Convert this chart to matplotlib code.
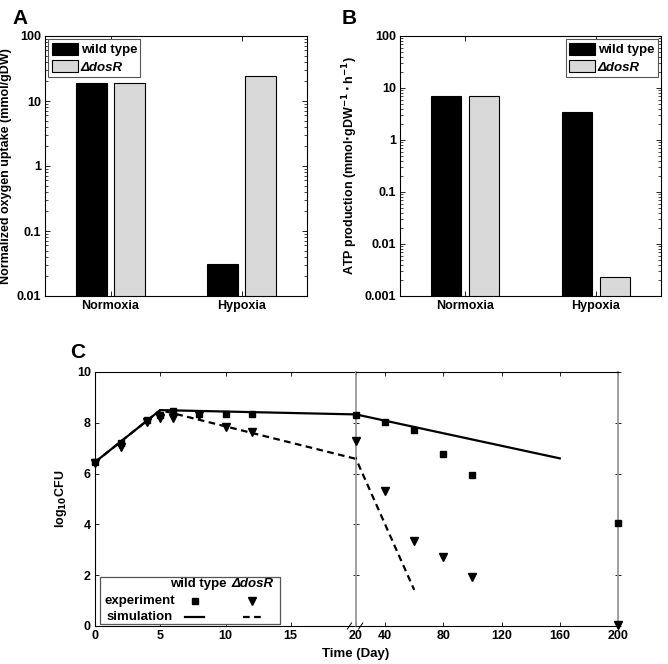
import numpy as np
import matplotlib.pyplot as plt
from matplotlib.patches import Rectangle
from matplotlib.lines import Line2D

plt.rcParams['font.family'] = ['Liberation Sans', 'DejaVu Sans']
plt.rcParams['font.weight'] = 'bold'
plt.rcParams['font.size'] = 9
plt.rcParams['axes.labelweight'] = 'bold'

conditions = ['Normoxia', 'Hypoxia']
o2_wt = [18.9, 0.031]
o2_dos = [18.9, 24.0]
atp_wt = [7.0, 3.5]
atp_dos = [7.0, 0.0023]

# panel C data
days_sim_wt = [0, 5, 20, 160]
sim_wt = [6.45, 8.5, 8.33, 6.6]
days_sim_dos = [0, 5, 20, 60]
sim_dos = [6.45, 8.5, 6.58, 1.42]
days_exp = [0, 2, 4, 5, 6, 8, 10, 12, 20, 40, 60, 80, 100, 200]
exp_wt = [6.45, 7.2, 8.1, 8.3, 8.45, 8.35, 8.35, 8.35, 8.32, 8.05, 7.7, 6.77, 5.96, 4.07]
exp_dos = [6.4, 7.05, 8.05, 8.2, 8.2, 8.3, 7.85, 7.63, 7.3, 5.3, 3.33, 2.72, 1.94, 0.05]

GRAY = '#d9d9d9'
LINE_GRAY = '#999999'


def fpos(l, t, r, b):
    return [l / 668, 1 - b / 664, (r - l) / 668, (b - t) / 664]


fig = plt.figure(figsize=(6.68, 6.64), dpi=100)


def bar_panel(ax, wt, dos, ylim, ylabel, legloc):
    x = np.arange(1, len(conditions) + 1)
    ax.bar(x - 0.145, wt, 0.23, color='black', edgecolor='black', linewidth=0.8, label='wild type')
    ax.bar(x + 0.145, dos, 0.23, color=GRAY, edgecolor='black', linewidth=0.8, label='ΔdosR')
    ax.set_yscale('log')
    ax.set_ylim(*ylim)
    ax.set_xlim(0.5, 2.5)
    ax.set_xticks(x)
    ax.set_xticklabels(conditions)
    ax.set_ylabel(ylabel, labelpad=3)
    ax.tick_params(which='both', direction='in', top=True, right=True)
    ax.tick_params(which='major', length=3.5, width=0.6, pad=3)
    ax.tick_params(which='minor', length=2, width=0.5)
    ax.yaxis.set_minor_formatter(plt.NullFormatter())
    ax.tick_params(axis='x', which='minor', bottom=False, top=False)
    for s in ax.spines.values():
        s.set_linewidth(0.8)
    leg = ax.legend(loc=legloc, fontsize=9.5, fancybox=False, edgecolor='#555555',
                    borderaxespad=0.25, handlelength=2.0, handleheight=1.1,
                    handletextpad=0.2, borderpad=0.25, labelspacing=0.25, framealpha=1)
    leg.get_frame().set_linewidth(0.8)
    leg.get_texts()[1].set_style('italic')


axA = fig.add_axes(fpos(45, 36, 307, 296))
bar_panel(axA, o2_wt, o2_dos, (0.01, 100), 'Normalized oxygen uptake (mmol/gDW)', 'upper left')
axA.set_yticks([0.01, 0.1, 1, 10, 100])
axA.set_yticklabels(['0.01', '0.1', '1', '10', '100'])

axB = fig.add_axes(fpos(400, 36, 661, 296))
bar_panel(axB, atp_wt, atp_dos, (0.001, 100),
          r'ATP production (mmol$\cdot$gDW$^{\mathbf{-1}}\cdot$h$^{\mathbf{-1}}$)', 'upper right')
axB.set_yticks([0.001, 0.01, 0.1, 1, 10, 100])
axB.set_yticklabels(['0.001', '0.01', '0.1', '1', '10', '100'])

# panel C, broken x axis
axL = fig.add_axes(fpos(95, 372, 356, 626))
axR = fig.add_axes(fpos(356, 372, 618, 626), sharey=axL)

d = np.array(days_exp)
ew = np.array(exp_wt)
ed = np.array(exp_dos)
left = d < 20
right = d >= 20
for ax, m in ((axL, left), (axR, right)):
    ax.plot(days_sim_wt, sim_wt, '-', color='black', lw=1.6, zorder=3)
    ax.plot(days_sim_dos, sim_dos, '--', color='black', lw=1.6, dashes=(3, 2), zorder=3)
    ax.plot(d[m], ew[m], 's', color='black', ms=4.5, zorder=4, clip_on=False)
    ax.plot(d[m], ed[m], 'v', color='black', ms=6, zorder=4, clip_on=False)
    ax.tick_params(direction='in', length=3, width=0.6, pad=3)
    for s in ax.spines.values():
        s.set_linewidth(0.8)

axL.set_xlim(0, 20)
axL.set_ylim(0, 10)
axL.set_yticks([0, 2, 4, 6, 8, 10])
axL.set_xticks([0, 5, 10, 15, 20])
axL.set_xticklabels(['0', '5', '10', '15', ''])
axL.tick_params(top=True, right=False)
axL.spines['right'].set_visible(False)
axL.set_ylabel('log$_{\\mathbf{10}}$CFU', labelpad=6)

axR.set_xlim(20, 200)
axR.set_xticks([20, 40, 80, 120, 160, 200])
axR.tick_params(top=True, left=True, right=True, labelleft=False, direction='inout', length=4)
axR.tick_params(axis='x', direction='in', length=3)
axR.spines['left'].set_color(LINE_GRAY)
axR.spines['right'].set_color(LINE_GRAY)
axR.spines['left'].set_linewidth(1.3)
axR.spines['right'].set_linewidth(1.3)
axR.set_xlabel('Time (Day)', x=0.0, labelpad=4, fontsize=9.5)

# break marks
for dx in (-0.025, 0.018):
    axR.plot([dx - 0.008, dx + 0.008], [-0.012, 0.012], color='black', lw=0.7,
             transform=axR.transAxes, clip_on=False)

# legend box for panel C
axL.add_patch(Rectangle((0.02, 0.006), 0.69, 0.185, transform=axL.transAxes,
                        facecolor='white', edgecolor='#555555', lw=0.9, zorder=5))
kw = dict(transform=axL.transAxes, zorder=6, fontsize=9.5, va='center')
axL.text(0.395, 0.165, 'wild type', ha='center', **kw)
axL.text(0.605, 0.165, 'ΔdosR', ha='center', style='italic', **kw)
axL.text(0.035, 0.1, 'experiment', ha='left', **kw)
axL.text(0.043, 0.037, 'simulation', ha='left', **kw)
axL.add_line(Line2D([0.385], [0.1], marker='s', color='black', ms=4.5,
                    transform=axL.transAxes, zorder=6))
axL.add_line(Line2D([0.6], [0.1], marker='v', color='black', ms=6,
                    transform=axL.transAxes, zorder=6))
axL.add_line(Line2D([0.345, 0.418], [0.037, 0.037], color='black', lw=1.6,
                    transform=axL.transAxes, zorder=6))
axL.add_line(Line2D([0.567, 0.64], [0.037, 0.037], color='black', lw=1.6, ls='--',
                    dashes=(3, 2), transform=axL.transAxes, zorder=6))

for lab, x, y in (('A', 12, 18), ('B', 342, 18), ('C', 70, 352)):
    fig.text(x / 668, 1 - y / 664, lab, fontsize=15, fontweight='bold', va='center', ha='left')

fig.savefig('out.png', dpi=100)
